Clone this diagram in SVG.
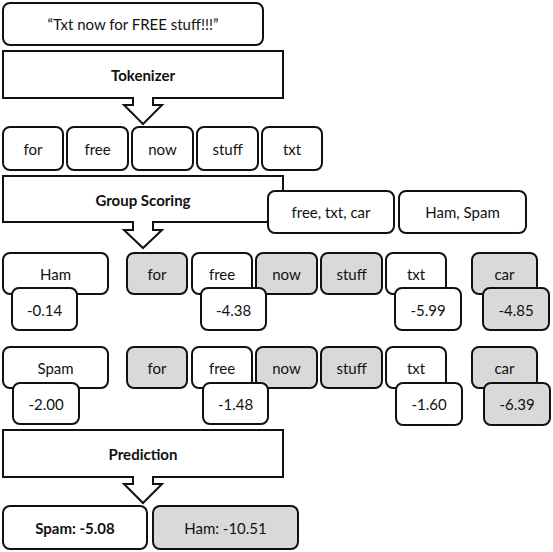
<svg xmlns="http://www.w3.org/2000/svg" width="553" height="552" viewBox="0 0 553 552">
<style>
  .b { fill: #ffffff; stroke: #111111; stroke-width: 2; }
  .g { fill: #d9d9d9; stroke: #111111; stroke-width: 2; }
  .t { font-family: Lato, "Open Sans", sans-serif; font-size: 15px; fill: #111111; text-anchor: middle; dominant-baseline: central; }
  .bold { font-weight: bold; }
  .arrow { fill: #ffffff; stroke: #111111; stroke-width: 2; stroke-linejoin: miter; }
</style>
<rect width="553" height="552" fill="#ffffff"/>

<g id="input">
  <rect class="b" x="3" y="3" width="260" height="42" rx="7"/>
  <text class="t" x="133" y="24">“Txt now for FREE stuff!!!”</text>
</g>

<g id="tokenizer">
  <rect class="b" x="3" y="51" width="280" height="47"/>
  <text class="t bold" x="143" y="75">Tokenizer</text>
</g>

<g id="tok-for"><rect class="b" x="3" y="127" width="60" height="43" rx="7"/><text class="t" x="33" y="149">for</text></g>
<g id="tok-free"><rect class="b" x="67" y="127" width="61" height="43" rx="7"/><text class="t" x="97.5" y="149">free</text></g>
<g id="tok-now"><rect class="b" x="132" y="127" width="61" height="43" rx="7"/><text class="t" x="162.5" y="149">now</text></g>
<g id="tok-stuff"><rect class="b" x="197" y="127" width="61" height="43" rx="7"/><text class="t" x="227.5" y="149">stuff</text></g>
<g id="tok-txt"><rect class="b" x="262" y="127" width="60" height="43" rx="7"/><text class="t" x="292" y="149">txt</text></g>

<g id="group-scoring">
  <rect class="b" x="3" y="176" width="280" height="46"/>
  <text class="t bold" x="143" y="200">Group Scoring</text>
</g>

<g id="vocab"><rect class="b" x="268" y="191" width="126" height="42" rx="7"/><text class="t" x="331" y="212">free, txt, car</text></g>
<g id="classes"><rect class="b" x="399" y="191" width="127" height="42" rx="7"/><text class="t" x="462.5" y="212">Ham, Spam</text></g>

<g id="ham-label"><rect class="b" x="3" y="253" width="105" height="41" rx="7"/><text class="t" x="55.5" y="274">Ham</text></g>
<g id="ham-for"><rect class="g" x="127" y="253" width="60" height="41" rx="7"/><text class="t" x="157" y="274">for</text></g>
<g id="ham-free"><rect class="b" x="192" y="253" width="60" height="41" rx="7"/><text class="t" x="222" y="274">free</text></g>
<g id="ham-now"><rect class="g" x="256" y="253" width="61" height="41" rx="7"/><text class="t" x="286.5" y="274">now</text></g>
<g id="ham-stuff"><rect class="g" x="321" y="253" width="61" height="41" rx="7"/><text class="t" x="351.5" y="274">stuff</text></g>
<g id="ham-txt"><rect class="b" x="386" y="253" width="60" height="41" rx="7"/><text class="t" x="416" y="274">txt</text></g>
<g id="ham-car"><rect class="g" x="472" y="253" width="65" height="41" rx="7"/><text class="t" x="504.5" y="274">car</text></g>

<g id="ham-prior"><rect class="b" x="12" y="288" width="65" height="42" rx="7"/><text class="t" x="44.5" y="310">-0.14</text></g>
<g id="ham-free-score"><rect class="b" x="201" y="288" width="65" height="42" rx="7"/><text class="t" x="233.5" y="310">-4.38</text></g>
<g id="ham-txt-score"><rect class="b" x="395" y="288" width="66" height="42" rx="7"/><text class="t" x="428" y="310">-5.99</text></g>
<g id="ham-car-score"><rect class="g" x="483" y="288" width="66" height="42" rx="7"/><text class="t" x="516" y="310">-4.85</text></g>

<g id="spam-label"><rect class="b" x="3" y="347" width="105" height="41" rx="7"/><text class="t" x="55.5" y="368">Spam</text></g>
<g id="spam-for"><rect class="g" x="127" y="347" width="60" height="41" rx="7"/><text class="t" x="157" y="368">for</text></g>
<g id="spam-free"><rect class="b" x="192" y="347" width="60" height="41" rx="7"/><text class="t" x="222" y="368">free</text></g>
<g id="spam-now"><rect class="g" x="256" y="347" width="61" height="41" rx="7"/><text class="t" x="286.5" y="368">now</text></g>
<g id="spam-stuff"><rect class="g" x="321" y="347" width="61" height="41" rx="7"/><text class="t" x="351.5" y="368">stuff</text></g>
<g id="spam-txt"><rect class="b" x="386" y="347" width="60" height="41" rx="7"/><text class="t" x="416" y="368">txt</text></g>
<g id="spam-car"><rect class="g" x="472" y="347" width="65" height="41" rx="7"/><text class="t" x="504.5" y="368">car</text></g>

<g id="spam-prior"><rect class="b" x="13" y="383" width="66" height="41" rx="7"/><text class="t" x="46" y="404">-2.00</text></g>
<g id="spam-free-score"><rect class="b" x="203" y="383" width="65" height="41" rx="7"/><text class="t" x="235.5" y="404">-1.48</text></g>
<g id="spam-txt-score"><rect class="b" x="396" y="383" width="66" height="42" rx="7"/><text class="t" x="429" y="404">-1.60</text></g>
<g id="spam-car-score"><rect class="g" x="484" y="383" width="66" height="42" rx="7"/><text class="t" x="517" y="404">-6.39</text></g>

<g id="prediction">
  <rect class="b" x="3" y="430" width="280" height="47"/>
  <text class="t bold" x="143" y="454">Prediction</text>
</g>

<g id="result-spam"><rect class="b" x="3" y="506" width="144" height="43" rx="7"/><text class="t bold" x="75" y="528">Spam: -5.08</text></g>
<g id="result-ham"><rect class="g" x="153" y="506" width="145" height="43" rx="7"/><text class="t" x="225.5" y="528">Ham: -10.51</text></g>

<g id="connectors">
  <path class="arrow" d="M133,97 V105 H124 L143,124 L162,105 H153 V97"/>
  <path class="arrow" d="M133,221 V230 H124 L143,248 L162,230 H153 V221"/>
  <path class="arrow" d="M133,476 V484 H124 L143,503 L162,484 H153 V476"/>
</g>
</svg>
